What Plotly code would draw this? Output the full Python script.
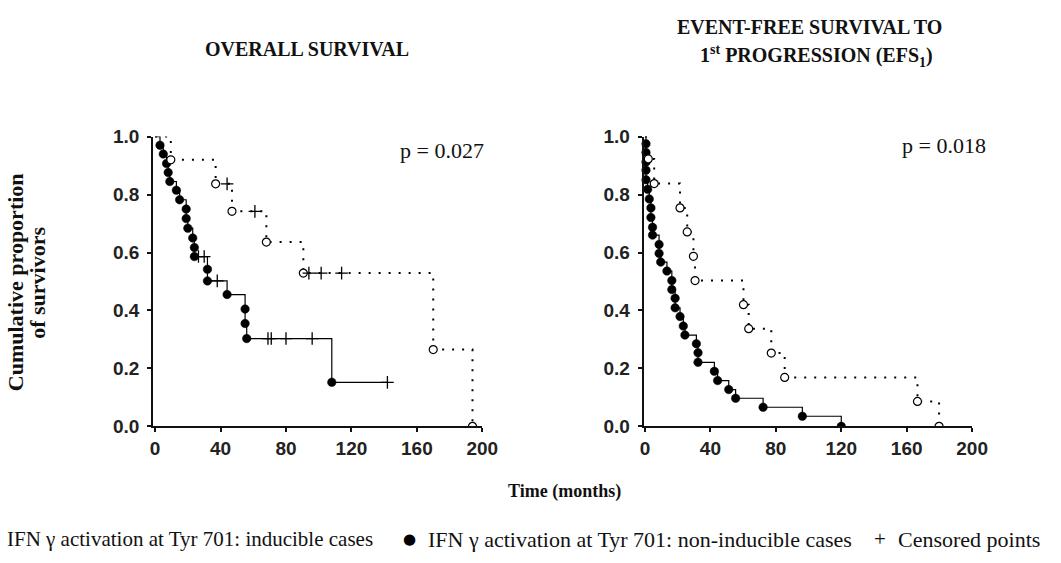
import plotly.graph_objects as go

W, H = 1061, 563

# ---------------- data ----------------
# Overall survival, non-inducible cases (events)
os_ni_t = [3, 5, 7, 8, 9, 13, 15, 19, 19, 20, 23, 24, 24, 32, 32, 44, 55, 55, 56, 108]
os_ni_s = [0.970, 0.940, 0.907, 0.876, 0.845, 0.815, 0.782, 0.750, 0.717, 0.684,
           0.650, 0.617, 0.586, 0.542, 0.502, 0.455, 0.405, 0.355, 0.303, 0.152]
os_ni_cens = [26.5, 30, 38, 69, 71, 80, 96, 142]
# Overall survival, inducible cases
os_in_t = [9.6, 37, 47, 68, 90.6, 170, 194]
os_in_s = [0.920, 0.837, 0.742, 0.636, 0.529, 0.265, 0.0]
os_in_cens = [44, 61, 94, 101.5, 114]

# EFS1, non-inducible cases
efs_ni_t = [0.6, 0.6, 0.6, 0.6, 0.6, 1.6, 2.6, 3.6, 3.6, 4.6, 4.6, 8.6, 8.6, 9.6, 13.4, 16.4,
            16.4, 18.4, 18.4, 21.4, 23.4, 24.4, 31.4, 32.4, 32.4, 42.4, 44.4, 51.2, 55.4,
            72.2, 96.2, 120]
efs_ni_s = [0.975, 0.945, 0.912, 0.884, 0.851, 0.818, 0.785, 0.754, 0.721, 0.687, 0.660,
            0.628, 0.597, 0.567, 0.536, 0.503, 0.472, 0.442, 0.409, 0.379, 0.346, 0.315,
            0.285, 0.254, 0.221, 0.190, 0.158, 0.127, 0.097, 0.066, 0.035, 0.0]
efs_ni_cens = []
# EFS1, inducible cases
efs_in_t = [2, 5.6, 21.4, 25.8, 29.6, 30.6, 60.2, 63.4, 77.2, 85.4, 166.6, 179.8]
efs_in_s = [0.923, 0.838, 0.754, 0.671, 0.587, 0.503, 0.420, 0.337, 0.253, 0.169, 0.086, 0.0]
efs_in_cens = []

x_ticks = [0, 40, 80, 120, 160, 200]
y_ticks = [0.0, 0.2, 0.4, 0.6, 0.8, 1.0]
p_values = ["p = 0.027", "p = 0.018"]

# ---------------- helpers ----------------
def surv_at(t, ev_t, ev_s):
    s = 1.0
    for a, b in zip(ev_t, ev_s):
        if a <= t:
            s = b
    return s

def step_points(ev_t, ev_s, cens):
    pts = [(0.0, 1.0, 0)]
    pts += [(a, b, 0) for a, b in zip(ev_t, ev_s)]
    pts += [(c, surv_at(c, ev_t, ev_s), 1) for c in cens]
    pts.sort(key=lambda p: (p[0], p[2], -p[1]))
    return [p[0] for p in pts], [p[1] for p in pts]

fig = go.Figure()

def add_group(ev_t, ev_s, cens, xa, ya, inducible):
    lx, ly = step_points(ev_t, ev_s, cens)
    fig.add_trace(go.Scatter(
        x=lx, y=ly, mode="lines", line_shape="hv", xaxis=xa, yaxis=ya,
        line=dict(color="black", width=2 if inducible else 1.2,
                  dash="2px,8px" if inducible else "solid"),
        hoverinfo="skip"))
    if inducible:
        mk = dict(symbol="circle", size=8, color="white", line=dict(color="black", width=1.2))
    else:
        mk = dict(symbol="circle", size=8.5, color="black", line=dict(color="black", width=0.5))
    nz = [(a, b) for a, b in zip(ev_t, ev_s) if b > 0]
    zz = [(a, b) for a, b in zip(ev_t, ev_s) if b <= 0]
    if nz:
        fig.add_trace(go.Scatter(x=[p[0] for p in nz], y=[p[1] for p in nz], mode="markers",
                                 marker=mk, xaxis=xa, yaxis=ya, cliponaxis=False))
    if zz:
        fig.add_trace(go.Scatter(x=[p[0] for p in zz], y=[p[1] for p in zz], mode="markers",
                                 marker=mk, xaxis=xa, yaxis=ya, cliponaxis=True))
    if cens:
        fig.add_trace(go.Scatter(
            x=cens, y=[surv_at(c, ev_t, ev_s) for c in cens], mode="markers",
            marker=dict(symbol="cross-thin", size=9, line=dict(color="black", width=1.3)),
            xaxis=xa, yaxis=ya, cliponaxis=False))

add_group(os_ni_t, os_ni_s, os_ni_cens, "x", "y", False)
add_group(os_in_t, os_in_s, os_in_cens, "x", "y", True)
add_group(efs_ni_t, efs_ni_s, efs_ni_cens, "x2", "y2", False)
add_group(efs_in_t, efs_in_s, efs_in_cens, "x2", "y2", True)

def px(v):
    return v / W

def py(v):
    return 1 - v / H

ydom = [py(432.5), py(131.5)]
tickfont = dict(family="Liberation Sans, Arial", size=19, color="#222", weight="bold")
axis_common = dict(showgrid=False, zeroline=False, showline=True, linecolor="#111",
                   linewidth=2, ticks="outside", ticklen=4, tickwidth=1.5, tickcolor="#111",
                   tickfont=tickfont, fixedrange=True)

fig.update_layout(
    width=W, height=H, margin=dict(l=0, r=0, t=0, b=0),
    paper_bgcolor="white", plot_bgcolor="white", showlegend=False,
    xaxis=dict(domain=[px(152), px(487.5)], range=[-1.2, 200], tickvals=x_ticks,
               anchor="y", **axis_common),
    yaxis=dict(domain=ydom, range=[0, 1], tickvals=y_ticks, ticklabelstandoff=4,
               ticktext=[f"{v:.1f}" for v in y_ticks], anchor="x", **axis_common),
    xaxis2=dict(domain=[px(652), px(986.7)], range=[-0.8, 200], tickvals=x_ticks,
                anchor="y2", **axis_common),
    yaxis2=dict(domain=ydom, range=[0, 1], tickvals=y_ticks, ticklabelstandoff=4,
                ticktext=[f"{v:.1f}" for v in y_ticks], anchor="x2", **axis_common),
)

serif = "Liberation Serif, Times New Roman, serif"

def note(text, x, y, size, bold=False, xanchor="center", angle=0, color="#111"):
    fig.add_annotation(
        text=text, x=px(x), y=py(y), xref="paper", yref="paper",
        xanchor=xanchor, yanchor="middle", showarrow=False, textangle=angle,
        font=dict(family=serif, size=size, color=color, weight="bold" if bold else "normal"))

# titles
note("OVERALL SURVIVAL", 309, 40, 20, bold=True)
note("EVENT-FREE SURVIVAL TO", 821, 18, 20, bold=True)
note("1<sup>st</sup> PROGRESSION (EFS<sub>1</sub>)", 828, 48, 20, bold=True)

# p-values
note(p_values[0], 446, 146, 22)
note(p_values[1], 958, 141, 22)

# axis titles
note("Cumulative proportion", 12, 283, 22, bold=True, angle=-90)
note("of survivors", 34, 283, 22, bold=True, angle=-90)
note("Time (months)", 571, 500, 18, bold=True)

# legend
note("IFN γ activation at Tyr 701: inducible cases", 1, 550, 21, xanchor="left")
fig.add_annotation(text="●", x=px(413), y=py(550), xref="paper", yref="paper",
                   showarrow=False, xanchor="center", yanchor="middle",
                   font=dict(family="DejaVu Sans", size=15, color="black"))
note("IFN γ activation at Tyr 701: non-inducible cases", 430, 550, 22, xanchor="left")
note("+", 893, 549, 21)
note("Censored points", 909, 550, 22, xanchor="left")

fig.write_html("out.html", config={"displayModeBar": False},
               post_script="document.body.style.margin='0px';")
